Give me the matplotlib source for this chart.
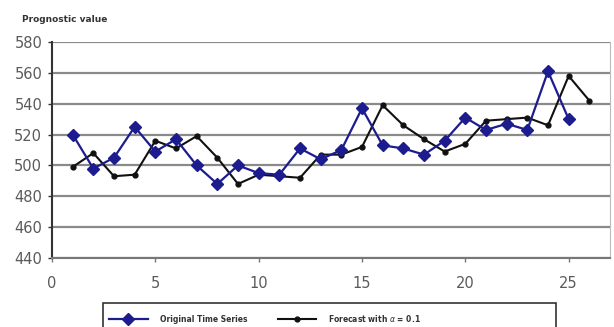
import matplotlib
matplotlib.use('Agg')
import matplotlib.pyplot as plt
from matplotlib.patches import Rectangle

# values
periods = list(range(1, 26))
original = [520, 498, 505, 525, 509, 517, 500, 488, 500, 495, 494, 511, 504, 510,
            537, 513, 511, 507, 516, 531, 523, 527, 523, 561, 530]

forecast_periods = list(range(1, 27))
forecast = [499, 508, 493, 494, 516, 511, 519, 505, 488, 494, 493, 492, 507, 507,
            512, 539, 526, 517, 509, 514, 529, 530, 531, 526, 558, 542]

yticks = [440, 460, 480, 500, 520, 540, 560, 580]
xticks = [0, 5, 10, 15, 20, 25]

BLUE = '#1c1c8e'
GRAY = '#5a5a5a'
W, H = 614, 327

fig = plt.figure(figsize=(6.14, 3.27), dpi=100)
ax = fig.add_axes([52 / W, 1 - 258 / H, (610 - 52) / W, (258 - 42) / H])

ax.plot(periods, original, color=BLUE, lw=1.6, marker='D', ms=6,
        label='Original Time Series', zorder=3)
ax.plot(forecast_periods, forecast, color='#111111', lw=1.5, marker='o', ms=3.5,
        label=r'Forecast with $\alpha$ = 0.1', zorder=2)

ax.set_xlim(0, 27)
ax.set_ylim(440, 580)
ax.set_yticks(yticks)
ax.set_xticks(xticks)
ax.yaxis.grid(True, color='#8a8a8a', lw=1.6)
ax.set_axisbelow(True)

ax.spines['top'].set_visible(False)
ax.spines['right'].set_color('#bbbbbb')
ax.spines['left'].set_color('#333333')
ax.spines['left'].set_linewidth(1.5)
ax.spines['bottom'].set_color('#777777')
ax.spines['bottom'].set_linewidth(1.5)

ax.tick_params(axis='y', colors='#333333', labelcolor=GRAY, labelsize=10.5,
               length=3, width=1, pad=4)
ax.tick_params(axis='x', colors='#777777', labelcolor=GRAY, labelsize=10.5,
               length=3, width=1, pad=10)

fig.text(22 / W, 1 - 19 / H, 'Prognostic value', fontsize=6.5,
         fontweight='bold', color='#333333', va='center')

# legend box runs past the bottom edge of the picture
fig.patches.append(Rectangle((103 / W, -0.05), (556 - 103) / W, 0.05 + 1 - 303 / H,
                             transform=fig.transFigure, fill=False,
                             edgecolor='#333333', lw=1.2))
leg = fig.legend(loc='center left', bbox_to_anchor=(104 / W, 1 - 318 / H),
                 ncol=2, frameon=False, handlelength=5, handletextpad=1.6,
                 columnspacing=4, borderpad=0.2, labelcolor='#333333',
                 prop={'weight': 'bold', 'size': 5.5})

fig.savefig('out.png', dpi=100)
